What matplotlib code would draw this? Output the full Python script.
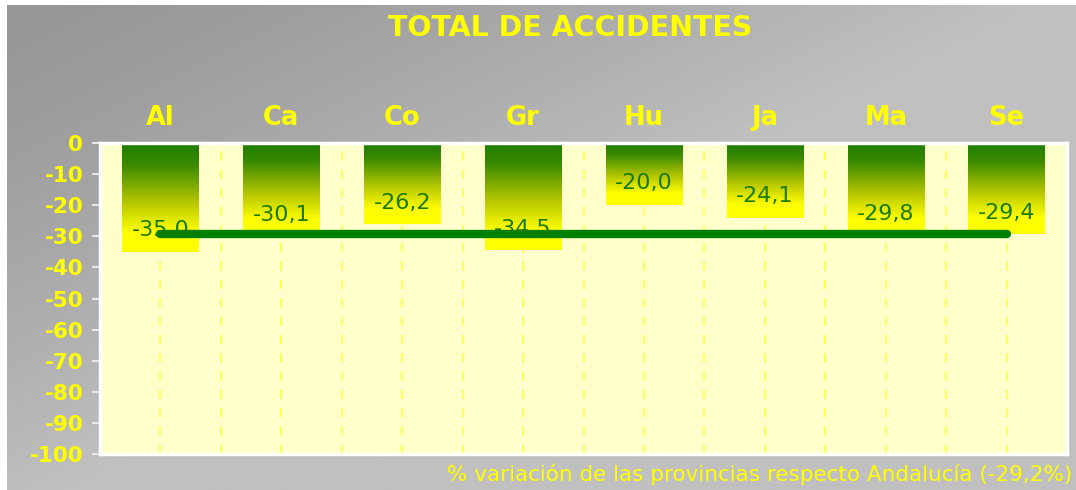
import numpy as np
import matplotlib
matplotlib.use("Agg")
import matplotlib.pyplot as plt
from matplotlib.colors import LinearSegmentedColormap

# datos
provincias = ["Al", "Ca", "Co", "Gr", "Hu", "Ja", "Ma", "Se"]
variacion = [-35.0, -30.1, -26.2, -34.5, -20.0, -24.1, -29.8, -29.4]
andalucia = -29.2
etiquetas = ["-35,0", "-30,1", "-26,2", "-34,5", "-20,0", "-24,1", "-29,8", "-29,4"]
yticks = [0, -10, -20, -30, -40, -50, -60, -70, -80, -90, -100]

W, H = 1076, 490
fig = plt.figure(figsize=(W / 100, H / 100), dpi=100)
fig.patch.set_facecolor("white")

# fondo gris degradado
bg = fig.add_axes([7 / W, 0, 1 - 7 / W, 1 - 5 / H])
bg.set_axis_off()
xx, yy = np.meshgrid(np.linspace(0, 1, 300), np.linspace(0, 1, 150))
s = np.clip(xx * 1.05 + yy * 0.95, 0, 1) ** 1.3
g = (150 + 42 * s) / 255
bg.imshow(np.dstack([g, g, g]), aspect="auto", extent=[0, 1, 1, 0],
          interpolation="bilinear")
bg.set_xlim(0, 1)
bg.set_ylim(1, 0)

ax = fig.add_axes([100 / W, 1 - 454 / H, 967 / W, 311 / H])
ax.set_facecolor("#ffffcc")
x = np.arange(len(provincias))

# rejilla vertical discontinua
for xv in np.concatenate([x, x[:-1] + 0.5]):
    ax.axvline(xv, color="#ffff33", lw=1.1, ls=(0, (6, 6)), zorder=1)

# barras con degradado verde -> amarillo
cmap = LinearSegmentedColormap.from_list(
    "gy", [(0.0, "#1e7d00"), (0.2, "#3a8a00"), (0.55, "#b8c800"),
           (0.82, "#ffff00"), (1.0, "#ffff00")])
grad = np.linspace(0, 1, 512).reshape(-1, 1)
bars = ax.bar(x, variacion, width=0.63, color="none", zorder=2)
for b in bars:
    x0, w, h = b.get_x(), b.get_width(), b.get_height()
    im = ax.imshow(grad, cmap=cmap, aspect="auto", extent=[x0, x0 + w, h, 0],
                   interpolation="bilinear", zorder=2)
    im.set_clip_path(b)

ax.set_xlim(-0.5, len(provincias) - 0.5)
ax.set_ylim(-100, 0)

# linea de Andalucía
ax.plot([x[0], x[-1]], [andalucia, andalucia], color="#008000", lw=6,
        solid_capstyle="round", zorder=4)

for xi, v, t in zip(x, variacion, etiquetas):
    ax.text(xi, v + 7, t, ha="center", va="center", color="#1a7a00",
            fontsize=16, zorder=5)

ax.set_yticks(yticks)
ax.set_yticklabels([str(t) for t in yticks], fontsize=15.5, fontweight="bold")
ax.tick_params(axis="y", colors="#e8e8e8", length=6, width=1.5,
               labelcolor="yellow", pad=6)
ax.set_xticks(x)
ax.set_xticklabels(provincias, color="yellow", fontsize=18.5, fontweight="bold")
ax.xaxis.tick_top()
ax.tick_params(axis="x", length=0, pad=9)
for sp in ax.spines.values():
    sp.set_color("white")
    sp.set_linewidth(2.5)

fig.text(0.5 * (100 + 1040) / W, 1 - 28 / H, "TOTAL DE ACCIDENTES", ha="center",
         va="center", color="yellow", fontsize=20.5, fontweight="bold")
fig.text(1072 / W, 1 - 474 / H,
         "% variación de las provincias respecto Andalucía (-29,2%)",
         ha="right", va="center", color="yellow", fontsize=15.5)

fig.savefig("out.png", dpi=100)
